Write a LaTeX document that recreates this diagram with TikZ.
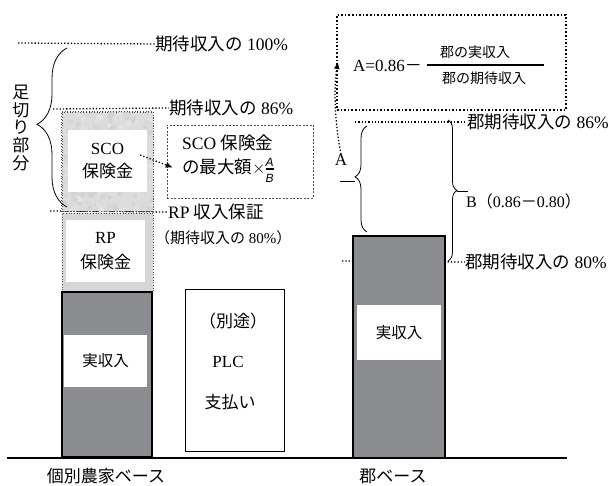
\documentclass[tikz,border=0pt]{standalone}
\usepackage{amsmath}
\usepackage{fontspec}
\setmainfont{Liberation Serif}
\newfontfamily\jp{Noto Sans CJK JP}
\newfontfamily\sfit{Liberation Sans Italic}
\usetikzlibrary{decorations.pathreplacing,arrows.meta,calc}
\newcommand\J[1]{{\jp #1}}
\definecolor{barg}{HTML}{8C8D90}
\definecolor{scog}{HTML}{DCDCDC}
\definecolor{rpg}{HTML}{D6D6D6}
\begin{document}
\begin{tikzpicture}[x=1pt,y=-1pt,
  lbl/.style={font=\fontsize{17.5}{20}\selectfont, inner sep=0pt, anchor=west},
  txt/.style={font=\fontsize{17}{22}\selectfont, inner sep=0pt, align=center},
  dotln/.style={line width=1.3pt, dotted},
  dotarrow/.style={line width=1.3pt, dotted, -{Latex[length=7pt,width=6pt]}},
  bar/.style={draw=black, line width=1.8pt, fill=barg, inner sep=0pt},
  whitebox/.style={fill=white, inner sep=0pt, font=\fontsize{15.5}{18}\selectfont},
  insbox/.style={draw=black!70, line width=0.7pt, dotted, inner sep=0pt},
  bracestyle/.style={decorate, line width=0.8pt}
]
\useasboundingbox (0,0) rectangle (614,486);

% ---------- guide lines (left) ----------
\coordinate (l100a) at (18,43);
\coordinate (l86a) at (53,109);
\coordinate (lrpa) at (50,211);
\node[lbl] (t100) at (155,44) {\J{期待収入の} 100\%};
\node[lbl] (t86) at (169,108) {\J{期待収入の} 86\%};
\node[lbl] (trp) at (168,212) {RP \J{収入保証}};
\node[lbl, font=\fontsize{15}{18}\selectfont] (trp2) at (155,238) {\J{（期待収入の} 80\%\J{）}};
\draw[dotln] (l100a) -- (t100.west);
\draw[dotln] (l86a) -- (t86.west);
\draw[dotln] (lrpa) -- (trp.west);

% ---------- individual farm column ----------
\node[insbox, fill=scog, minimum width=91pt, minimum height=99pt] (sco) at (107.5,161.5) {};
\begin{scope}
  \clip (sco.south west) rectangle (sco.north east);
  \pgfmathsetseed{7}
  \foreach \i in {1,...,420} {
    \pgfmathsetmacro{\px}{62+91*rnd}
    \pgfmathsetmacro{\py}{112+99*rnd}
    \pgfmathsetmacro{\pr}{1+2.5*rnd}
    \pgfmathsetmacro{\pg}{8+12*rnd}
    \fill[black!\pg, opacity=0.7] (\px,\py) circle[radius=\pr pt];
  }
\end{scope}
\draw[insbox] (sco.south west) rectangle (sco.north east);
\node[whitebox, minimum width=79pt, minimum height=62pt, align=center, font=\fontsize{17}{23}\selectfont] (scoin) at (107.5,161) {SCO\\\J{保険金}};
\node[insbox, fill=rpg, minimum width=91pt, minimum height=79pt] (rp) at (107.5,252.5) {};
\node[whitebox, minimum width=79pt, minimum height=62pt, align=center, font=\fontsize{17}{25}\selectfont] (rpin) at (105.5,251) {RP\\\J{保険金}};
\node[bar, minimum width=90pt, minimum height=165pt] (ind) at (107,374.5) {};
\node[whitebox, minimum width=83pt, minimum height=52pt] (indin) at (105.5,361) {\J{実収入}};

% brace for 足切り部分
\draw[bracestyle, decoration={brace, amplitude=30pt, aspect=0.52}] (67,207) -- (67,48);
\node[txt, font=\fontsize{17}{17.8}\selectfont] (ashi) at (21,128) {\J{足}\\\J{切}\\\J{り}\\\J{部}\\\J{分}};

% SCO max box
\node[draw=black!70, line width=0.5pt, dash pattern=on 2pt off 1.5pt, minimum width=146pt, minimum height=73pt, inner sep=0pt] (maxbox) at (240,161.5) {};
\node[lbl, font=\fontsize{17.5}{24}\selectfont, align=left, anchor=north west] (maxtxt) at (182,135) {SCO \J{保険金}\\\J{の最大額}$\times$\raisebox{-0.34\height}{\shortstack{{\sfit\fontsize{12}{12}\selectfont A}\\[-1pt]\rule{8pt}{1.6pt}\\[1pt]{\sfit\fontsize{12}{12}\selectfont B}}}};
\draw[dotarrow] ($(scoin.east)+(-7,-6)$) -- ($(maxbox.west)+(6,6)$);

% PLC box
\node[draw=black, line width=0.7pt, minimum width=99pt, minimum height=162pt, inner sep=0pt] (plc) at (234.5,370) {};
\node[txt] (plc1) at (233,321) {\J{（別途）}};
\node[txt] (plc2) at (228,362) {PLC};
\node[txt] (plc3) at (230,402) {\J{支払い}};

% ---------- county column ----------
\node[lbl] (c86) at (467,122) {\J{郡期待収入の} 86\%};
\node[lbl] (c80) at (465,262) {\J{郡期待収入の} 80\%};
\coordinate (c86a) at (355,122);
\coordinate (c80a) at (342,261);
\draw[dotln] (c86a) -- (c86.west);
\draw[dotln] (c80a) -- (c80.west);
\node[bar, minimum width=92pt, minimum height=222pt] (cty) at (399,347) {};
\node[whitebox, minimum width=84pt, minimum height=55pt] (ctyin) at (399,332.5) {\J{実収入}};

% braces A and B
\draw[bracestyle, decoration={brace, amplitude=12pt, aspect=0.52}] (367,232) -- (367,126);
\coordinate (atip) at (355,181);
\coordinate (aext) at (340,181);
\draw[line width=0.8pt] (atip) -- (aext);
\draw[bracestyle, decoration={brace, amplitude=9pt, aspect=0.5}] (448,120) -- (448,261);
\coordinate (btip) at (457,191);
\coordinate (bext) at (468,191);
\draw[line width=0.8pt] (btip) -- (bext);
\node[lbl, font=\fontsize{16}{20}\selectfont] (Blab) at (466,201) {B\J{（}0.86\J{－}0.80\J{）}};
\node[txt] (Alab) at (341,160) {A};

% formula box
\node[draw=black, line width=1.6pt, dotted, minimum width=229pt, minimum height=95pt, inner sep=0pt] (fbox) at (451.5,62.5) {};
\node[lbl, font=\fontsize{17}{20}\selectfont] (feq) at (353,66) {A=0.86\J{－}};
\coordinate (fr0) at (427,65);
\coordinate (fr1) at (544,65);
\draw[line width=1.4pt] (fr0) -- (fr1);
\node[txt, font=\fontsize{14}{16}\selectfont] (fnum) at (475,52) {\J{郡の実収入}};
\node[txt, font=\fontsize{14}{16}\selectfont] (fden) at (484,78) {\J{郡の期待収入}};
\coordinate (fin) at (338,62);
\draw[dotarrow] (Alab.north) .. controls +(-7,-35) and +(-4,22) .. (fin);

% ---------- baseline and labels ----------
\coordinate (base0) at (7,458);
\coordinate (base1) at (567,458);
\draw[line width=1.2pt] (base0) -- (base1);
\node[txt, font=\fontsize{17}{18}\selectfont] (lind) at (106,476) {\J{個別農家ベース}};
\node[txt, font=\fontsize{17}{18}\selectfont] (lcty) at (393,476) {\J{郡ベース}};
\end{tikzpicture}
\end{document}
